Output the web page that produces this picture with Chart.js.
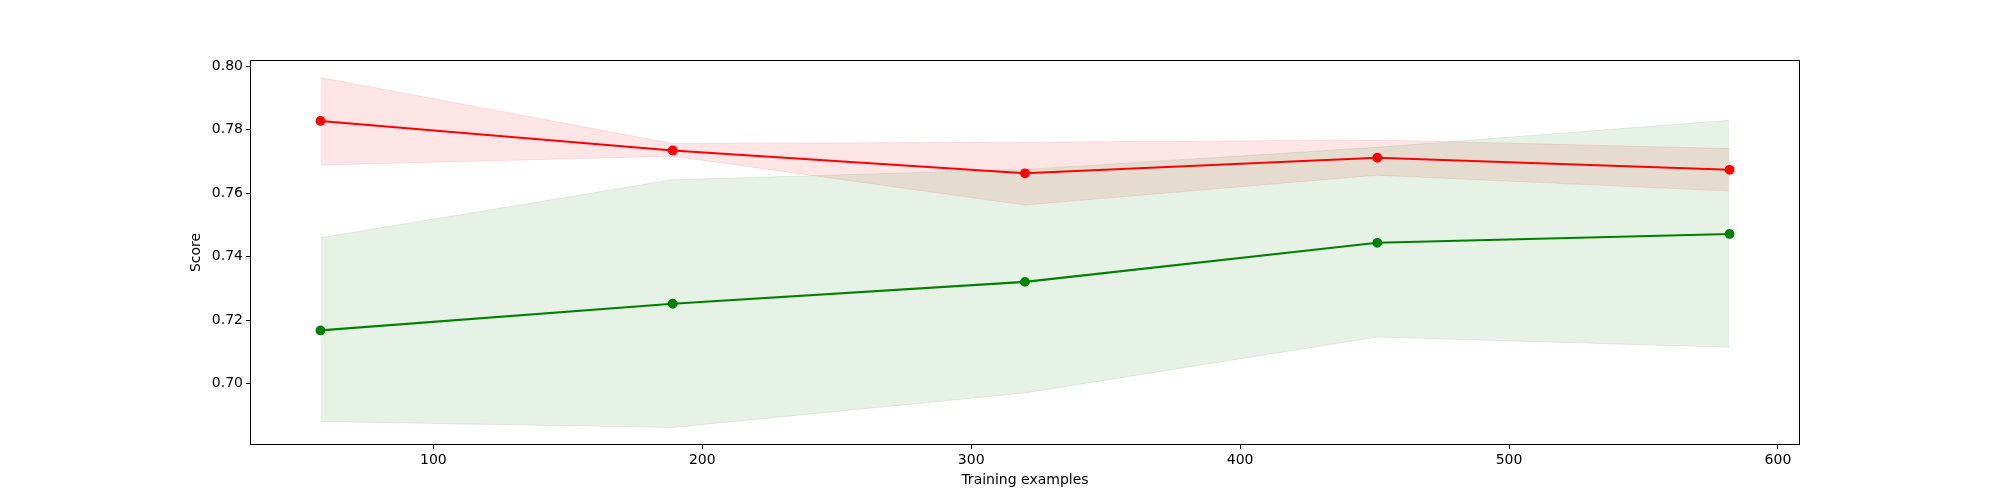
<!DOCTYPE html>
<html>
<head>
<meta charset="utf-8">
<script src="https://cdn.jsdelivr.net/npm/chart.js@4"></script>
<style>
  html, body { margin: 0; padding: 0; background: #fff; }
  canvas { display: block; }
</style>
</head>
<body>
<canvas id="chart" width="2000" height="500"></canvas>
<script>
// Training sizes (x) and scores
const TRAIN_SIZES = [58, 189, 320, 451, 582];

const TRAIN_MEAN  = [0.7828, 0.7735, 0.7663, 0.7712, 0.7674];
const TRAIN_UPPER = [0.7965, 0.7757, 0.7761, 0.7768, 0.7741];
const TRAIN_LOWER = [0.7689, 0.7717, 0.7563, 0.7657, 0.7607];

const TEST_MEAN  = [0.7168, 0.7252, 0.7321, 0.7444, 0.7472];
const TEST_UPPER = [0.7460, 0.7643, 0.7675, 0.7745, 0.7830];
const TEST_LOWER = [0.6881, 0.6862, 0.6971, 0.7147, 0.7115];

const X_TICKS = [100, 200, 300, 400, 500, 600];
const Y_TICKS = [0.70, 0.72, 0.74, 0.76, 0.78, 0.80];

const pts = (ys) => ys.map((y, i) => ({ x: TRAIN_SIZES[i], y }));

// --- matplotlib-like full box around the plot area ---
const frame = {
  id: 'frame',
  afterDraw(chart) {
    const { ctx, chartArea: a } = chart;
    ctx.save();
    ctx.strokeStyle = '#000';
    ctx.lineWidth = 1;
    ctx.strokeRect(a.left + 0.5, a.top + 0.5, a.right - a.left - 1, a.bottom - a.top - 1);
    ctx.restore();
  },
};

Chart.defaults.color = '#000';
Chart.defaults.font.family = '"DejaVu Sans", sans-serif';
Chart.defaults.font.size = 14;

const band = (label, data, rgb, fill, order) => ({
  label,
  data: pts(data),
  borderColor: `rgba(${rgb}, 0.1)`,
  backgroundColor: `rgba(${rgb}, 0.1)`,
  borderWidth: 1,
  pointRadius: 0,
  fill,
  order,
});

const line = (label, data, color, order) => ({
  label,
  data: pts(data),
  borderColor: color,
  backgroundColor: color,
  borderWidth: 2.1,
  pointRadius: 4.2,
  pointBorderWidth: 1.4,
  pointBorderColor: color,
  pointBackgroundColor: color,
  fill: false,
  order,
});

new Chart(document.getElementById('chart'), {
  type: 'line',
  data: {
    datasets: [
      band('train low', TRAIN_LOWER, '255, 0, 0', false, 6),
      band('train high', TRAIN_UPPER, '255, 0, 0', 0, 5),
      band('test low', TEST_LOWER, '0, 128, 0', false, 4),
      band('test high', TEST_UPPER, '0, 128, 0', 2, 3),
      line('Training score', TRAIN_MEAN, '#ff0000', 2),
      line('Cross-validation score', TEST_MEAN, '#008000', 1),
    ],
  },
  options: {
    responsive: false,
    animation: false,
    devicePixelRatio: 1,
    layout: { padding: { left: 180, right: 200, top: 60, bottom: 0 } },
    plugins: {
      legend: { display: false },
      tooltip: { enabled: false },
      filler: { propagate: false },
    },
    scales: {
      x: {
        type: 'linear',
        min: 31.8,
        max: 608.2,
        afterBuildTicks: (s) => { s.ticks = X_TICKS.map(v => ({ value: v })); },
        afterFit: (s) => { s.height = 55; },
        grid: { drawOnChartArea: false, drawTicks: true, tickLength: 4, tickColor: '#000', color: '#000' },
        border: { display: false },
        ticks: { padding: 3, maxRotation: 0, callback: (v) => String(v) },
        title: { display: true, text: 'Training examples', padding: { top: 0, bottom: 11.6 } },
      },
      y: {
        type: 'linear',
        min: 0.6807,
        max: 0.8020,
        afterBuildTicks: (s) => { s.ticks = Y_TICKS.map(v => ({ value: v })); },
        afterFit: (s) => { s.width = 70; },
        grid: { drawOnChartArea: false, drawTicks: true, tickLength: 4, tickColor: '#000', color: '#000' },
        border: { display: false },
        ticks: { padding: 3, callback: (v) => v.toFixed(2) },
        title: { display: true, text: 'Score', padding: { top: 7.6, bottom: 0 } },
      },
    },
  },
  plugins: [frame],
});
</script>
</body>
</html>
